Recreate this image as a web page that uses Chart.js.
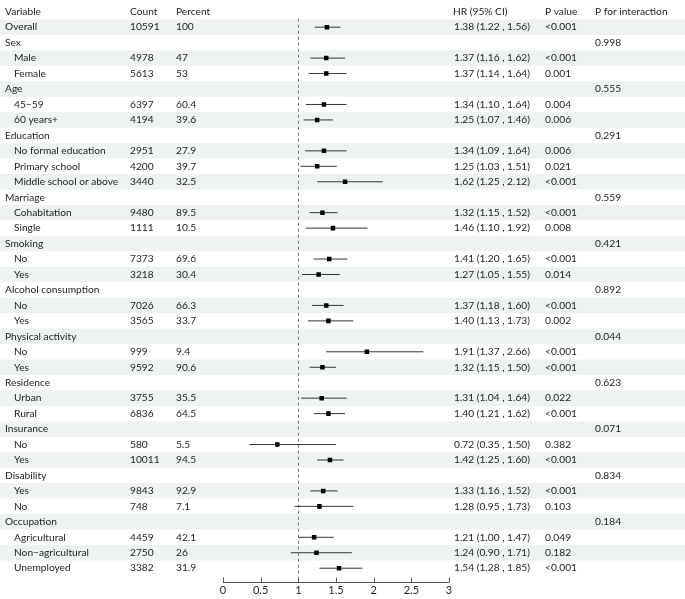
<!DOCTYPE html>
<html>
<head>
<meta charset="utf-8">
<script src="https://cdn.jsdelivr.net/npm/chart.js@4.4.1/dist/chart.umd.min.js"></script>
<style>
html,body{margin:0;padding:0;background:#fff;}
#c{display:block;width:685px;height:599px;}
</style>
</head>
<body>
<canvas id="c" width="685" height="599"></canvas>
<script>
// ---- data ----
const labels = ["Overall","Sex","Male","Female","Age","45−59","60 years+","Education","No formal education","Primary school","Middle school or above","Marriage","Cohabitation","Single","Smoking","No","Yes","Alcohol consumption","No","Yes","Physical activity","No","Yes","Residence","Urban","Rural","Insurance","No","Yes","Disability","Yes","No","Occupation","Agricultural","Non−agricultural","Unemployed"];
const isSub = [0,0,1,1,0,1,1,0,1,1,1,0,1,1,0,1,1,0,1,1,0,1,1,0,1,1,0,1,1,0,1,1,0,1,1,1];
const counts = ["10591","","4978","5613","","6397","4194","","2951","4200","3440","","9480","1111","","7373","3218","","7026","3565","","999","9592","","3755","6836","","580","10011","","9843","748","","4459","2750","3382"];
const percents = ["100","","47","53","","60.4","39.6","","27.9","39.7","32.5","","89.5","10.5","","69.6","30.4","","66.3","33.7","","9.4","90.6","","35.5","64.5","","5.5","94.5","","92.9","7.1","","42.1","26","31.9"];
const hr    = [1.38,null,1.37,1.37,null,1.34,1.25,null,1.34,1.25,1.62,null,1.32,1.46,null,1.41,1.27,null,1.37,1.40,null,1.91,1.32,null,1.31,1.40,null,0.72,1.42,null,1.33,1.28,null,1.21,1.24,1.54];
const lower = [1.22,null,1.16,1.14,null,1.10,1.07,null,1.09,1.03,1.25,null,1.15,1.10,null,1.20,1.05,null,1.18,1.13,null,1.37,1.15,null,1.04,1.21,null,0.35,1.25,null,1.16,0.95,null,1.00,0.90,1.28];
const upper = [1.56,null,1.62,1.64,null,1.64,1.46,null,1.64,1.51,2.12,null,1.52,1.92,null,1.65,1.55,null,1.60,1.73,null,2.66,1.50,null,1.64,1.62,null,1.50,1.60,null,1.52,1.73,null,1.47,1.71,1.85];
const pvals = ["<0.001","","<0.001","0.001","","0.004","0.006","","0.006","0.021","<0.001","","<0.001","0.008","","<0.001","0.014","","<0.001","0.002","","<0.001","<0.001","","0.022","<0.001","","0.382","<0.001","","<0.001","0.103","","0.049","0.182","<0.001"];
const pint  = ["","0.998","","","0.555","","","0.291","","","","0.559","","","0.421","","","0.892","","","0.044","","","0.623","","","0.071","","","0.834","","","0.184","","",""];
const headers = ["Variable","Count","Percent","HR (95% CI)","P value","P for interaction"];
const xTicks = [0,0.5,1,1.5,2,2.5,3];

// ---- build datasets ----
const points = [];
const ciSegs = [];
hr.forEach((v,i)=>{
  if(v===null) return;
  points.push({x:v,y:i});
  ciSegs.push({x:lower[i],y:i},{x:upper[i],y:i},{x:null,y:null});
});

const FONT = "Lato, 'Open Sans', sans-serif";
const TXT = "#1e1e1e";

const tablePlugin = {
  id:'table',
  beforeDatasetsDraw(chart){
    const {ctx, scales:{x,y}, chartArea} = chart;
    ctx.save();
    // shading
    ctx.fillStyle = "#eef2f0";
    for(let i=0;i<labels.length;i+=2){
      const t = y.getPixelForValue(i-0.5), b = y.getPixelForValue(i+0.5);
      ctx.fillRect(0,t,chart.width,b-t);
    }
    // reference line at 1
    const x1 = Math.round(x.getPixelForValue(1))+0.5;
    ctx.strokeStyle = "#777";
    ctx.lineWidth = 1;
    ctx.setLineDash([3,3]);
    ctx.beginPath();
    ctx.moveTo(x1, y.getPixelForValue(-0.55));
    ctx.lineTo(x1, y.getPixelForValue(35.6));
    ctx.stroke();
    ctx.setLineDash([]);
    // axis line + upward ticks
    const ay = Math.round(chartArea.bottom)+0.5;
    ctx.strokeStyle = "#555";
    ctx.beginPath();
    ctx.moveTo(x.getPixelForValue(xTicks[0]), ay);
    ctx.lineTo(x.getPixelForValue(xTicks[xTicks.length-1]), ay);
    xTicks.forEach(t=>{
      const px = Math.round(x.getPixelForValue(t))+0.5;
      ctx.moveTo(px, ay); ctx.lineTo(px, ay-5);
    });
    ctx.stroke();
    // texts
    ctx.fillStyle = TXT;
    ctx.font = "10.2px " + FONT;
    ctx.textBaseline = "middle";
    ctx.textAlign = "left";
    const colX = [5,130,176,454,545,595];
    const hy = y.getPixelForValue(-1);
    headers.forEach((h,k)=>ctx.fillText(h,colX[k]-(k===3?1:0),hy));
    labels.forEach((lab,i)=>{
      const py = y.getPixelForValue(i);
      ctx.fillText(lab, isSub[i]?14:5, py);
      if(counts[i]) ctx.fillText(counts[i], colX[1], py);
      if(percents[i]) ctx.fillText(percents[i], colX[2], py);
      if(hr[i]!==null){
        ctx.fillText(hr[i].toFixed(2)+" ("+lower[i].toFixed(2)+" , "+upper[i].toFixed(2)+")", colX[3], py);
      }
      if(pvals[i]) ctx.fillText(pvals[i], colX[4], py);
      if(pint[i]) ctx.fillText(pint[i], colX[5], py);
    });
    ctx.restore();
  }
};

new Chart(document.getElementById('c'),{
  type:'scatter',
  data:{
    datasets:[
      {type:'line', data:ciSegs, borderColor:'#333', borderWidth:1, pointRadius:0, showLine:true, spanGaps:false, fill:false, order:2},
      {type:'scatter', data:points, pointStyle:'rect', pointRadius:3.2, backgroundColor:'#000', borderColor:'#000', borderWidth:0, order:1}
    ]
  },
  options:{
    responsive:false,
    animation:false,
    devicePixelRatio:1,
    layout:{padding:{left:223,right:236,top:2,bottom:0}},
    plugins:{legend:{display:false},tooltip:{enabled:false}},
    scales:{
      x:{type:'linear',min:0,max:3,
        afterBuildTicks(s){ s.ticks = xTicks.map(v=>({value:v})); },
        grid:{display:false,drawTicks:false},
        border:{display:false},
        ticks:{padding:2,color:TXT,font:{family:FONT,size:11},callback:v=>String(v)}
      },
      y:{type:'linear',min:-1.5,max:35.88,reverse:true,display:false}
    }
  },
  plugins:[tablePlugin]
});
</script>
</body>
</html>
